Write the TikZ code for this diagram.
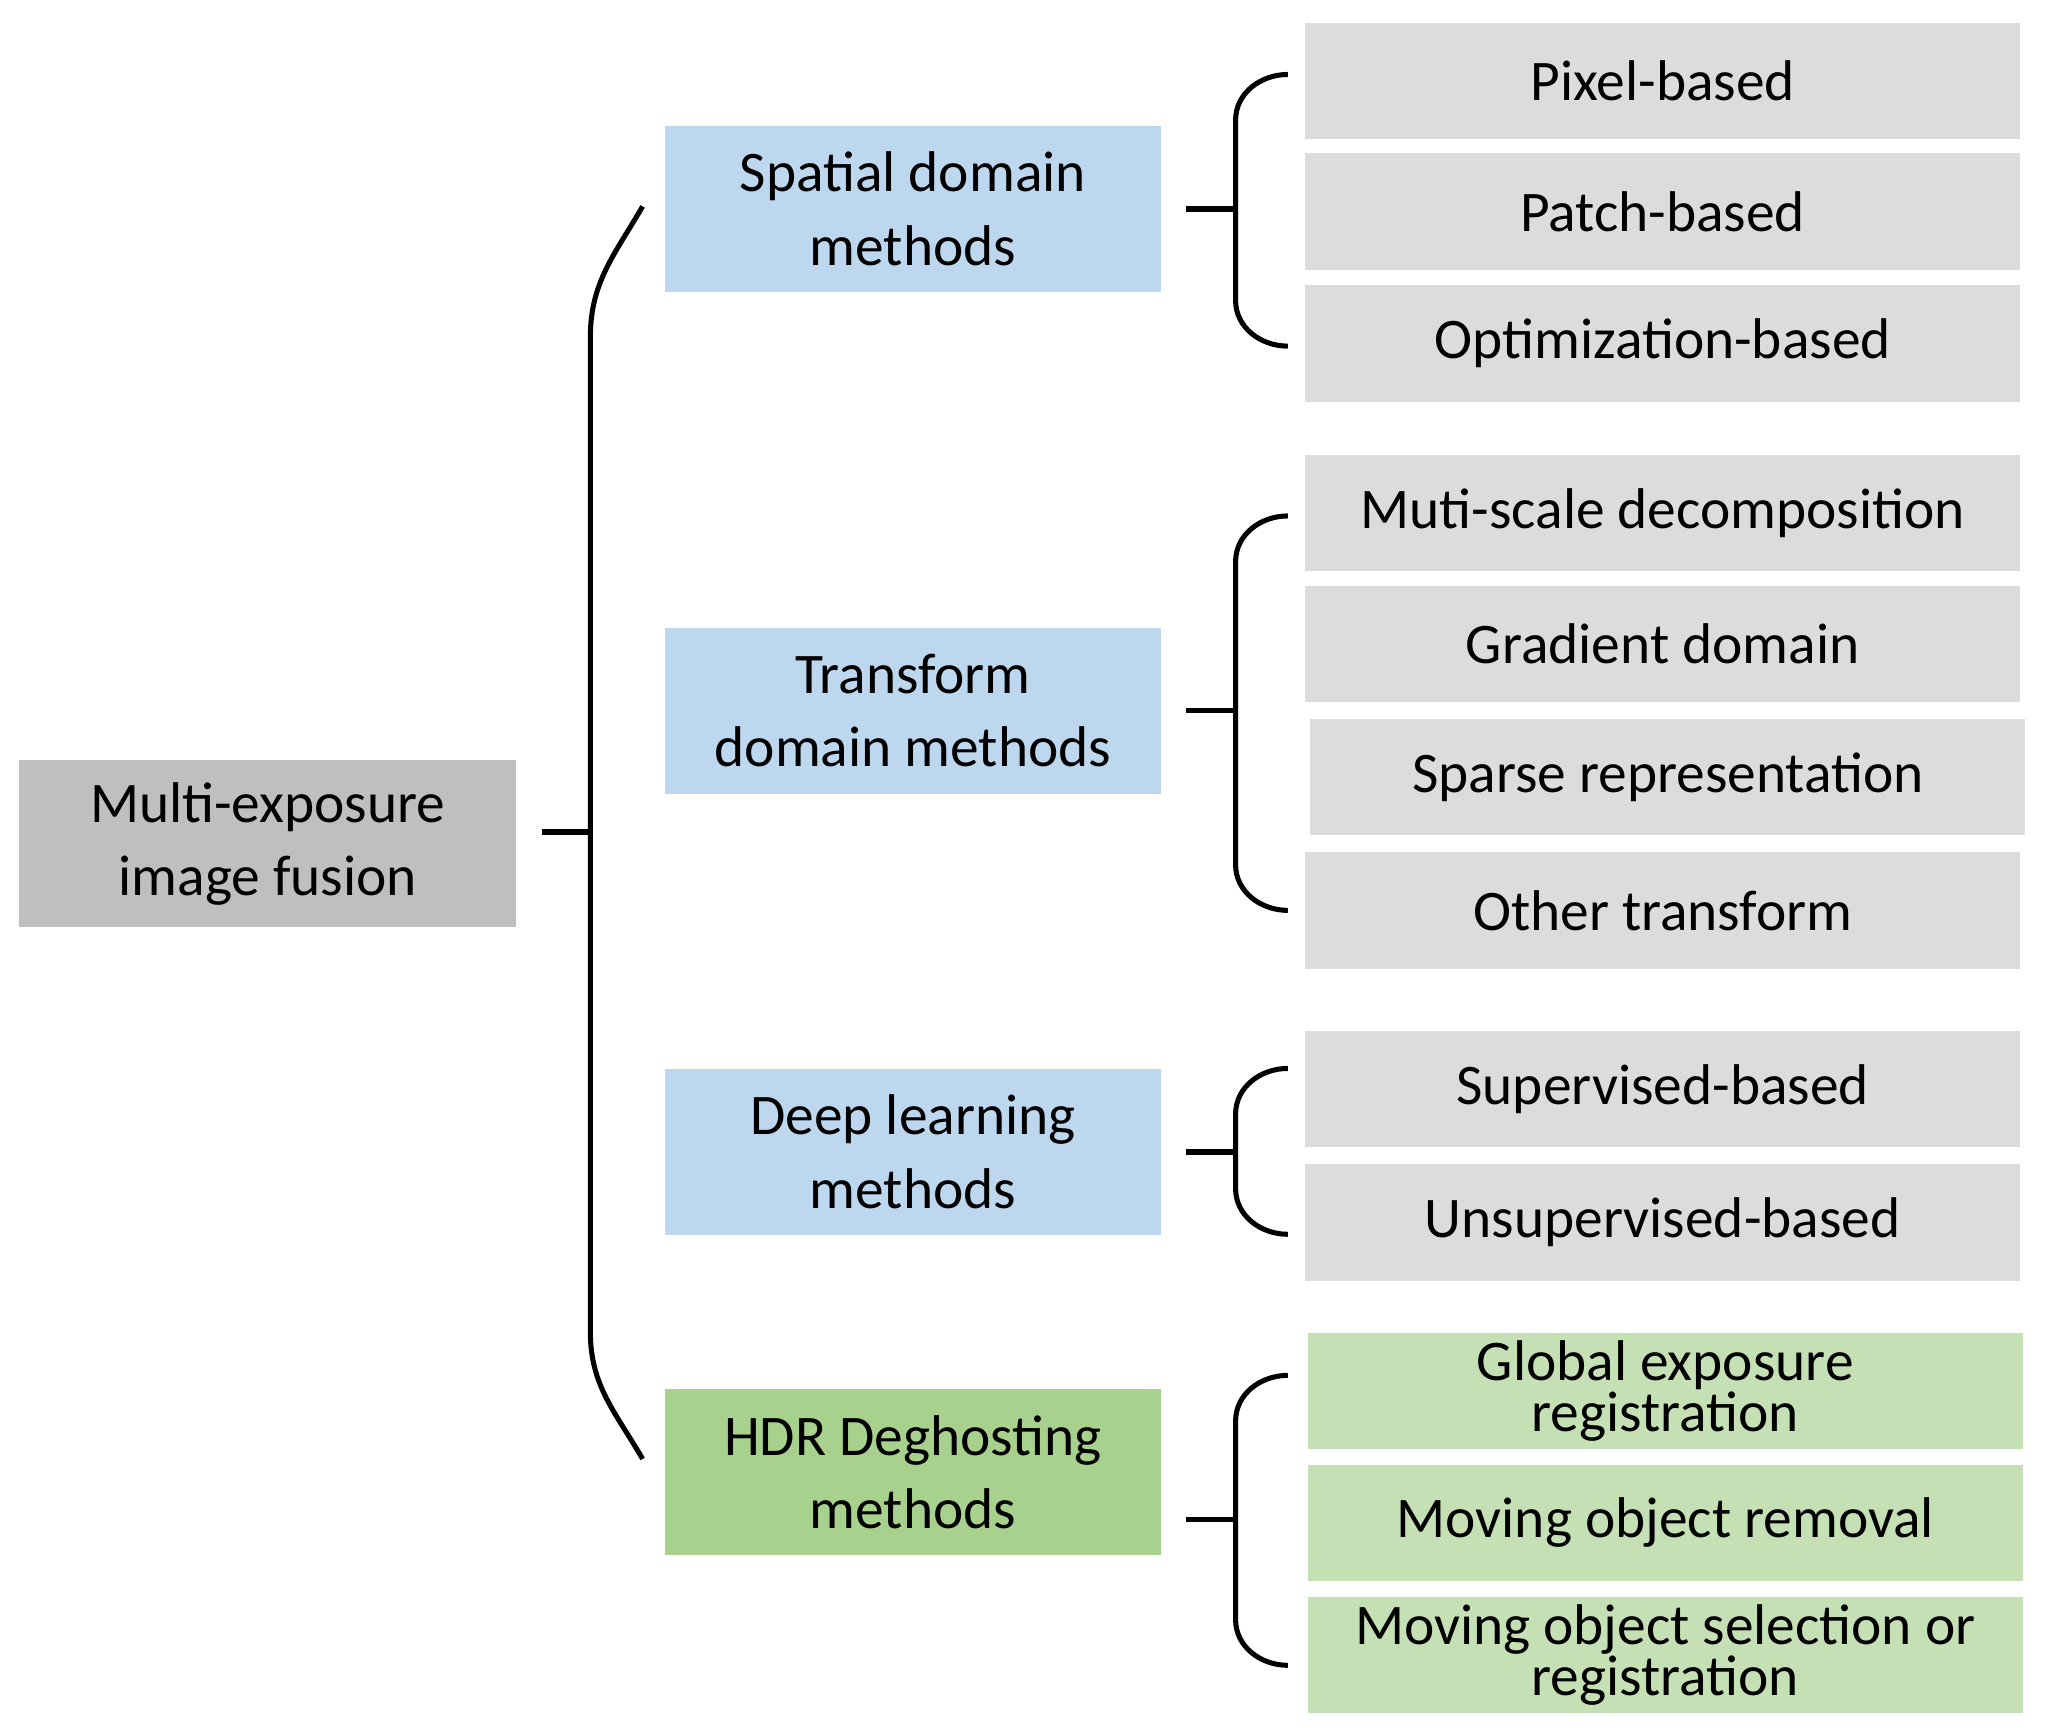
\documentclass[tikz,border=0pt]{standalone}
\usepackage{fontspec}
\setmainfont{Carlito}
\usetikzlibrary{positioning}
\definecolor{rootgray}{HTML}{BFBFBF}
\definecolor{leafgray}{HTML}{DCDCDC}
\definecolor{midblue}{HTML}{BDD7EE}
\definecolor{midgreen}{HTML}{A9D18E}
\definecolor{leafgreen}{HTML}{C5E0B4}
\tikzset{
  box/.style={inner sep=0pt, align=center, font=\fontsize{12.5}{16}\selectfont},
  mid/.style={box, fill=midblue, minimum width=3.8cm, minimum height=1.27cm},
  leaf/.style={box, fill=leafgray, minimum width=5.47cm, minimum height=0.89cm},
  gleaf/.style={leaf, fill=leafgreen, font=\fontsize{12.5}{11}\selectfont},
  brace/.style={line width=1.1pt}
}
\newcommand{\smallbrace}[3]{% top, bottom, stub
  \draw[brace] (986,#1) to[out=180,in=90] (946,#1+35) -- (946,#2-35) to[out=-90,in=180] (986,#2);
  \draw[brace] (908,#3) -- (946,#3);
}
\begin{document}
\begin{tikzpicture}[x=0.01cm, y=-0.01cm]
    \useasboundingbox (0,0) rectangle (1568,1326);
    % root and methods
    \node[box, fill=rootgray, minimum width=3.8cm, minimum height=1.28cm] (root) at (205,646) {Multi-exposure\\image fusion};
    \node[mid] (spatial) at (699,160) {Spatial domain\\methods};
    \node[mid] (transform) at (699,544) {Transform\\domain methods};
    \node[mid] (deep) at (699,882) {Deep learning\\methods};
    \node[mid, fill=midgreen] (hdr) at (699,1127) {HDR Deghosting\\methods};
    % leaves
    \node[leaf] (pixel) at (1273,62) {Pixel-based};
    \node[leaf] (patch) at (1273,162) {Patch-based};
    \node[leaf] (optim) at (1273,263) {Optimization-based};
    \node[leaf] (multi) at (1273,393) {Muti-scale decomposition};
    \node[leaf] (grad) at (1273,493) {Gradient domain};
    \node[leaf] (sparse) at (1277,595) {Sparse representation};
    \node[leaf] (other) at (1273,697) {Other transform};
    \node[leaf] (super) at (1273,834) {Supervised-based};
    \node[leaf] (unsuper) at (1273,936) {Unsupervised-based};
    \node[gleaf] (global) at (1275,1065) {Global exposure\\registration};
    \node[gleaf] (removal) at (1275,1166) {Moving object removal};
    \node[gleaf] (select) at (1275,1267) {Moving object selection or\\registration};
    % main brace
    \draw[brace] (492,158) to[out=240,in=90] (452,258) -- (452,1020) to[out=-90,in=120] (492,1117);
    \draw[brace] (415,637) -- (452,637);
    % sub braces
    \smallbrace{57}{265}{160}
    \smallbrace{395}{697}{544}
    \smallbrace{818}{945}{882}
    \smallbrace{1053}{1275}{1163}
\end{tikzpicture}
\end{document}
